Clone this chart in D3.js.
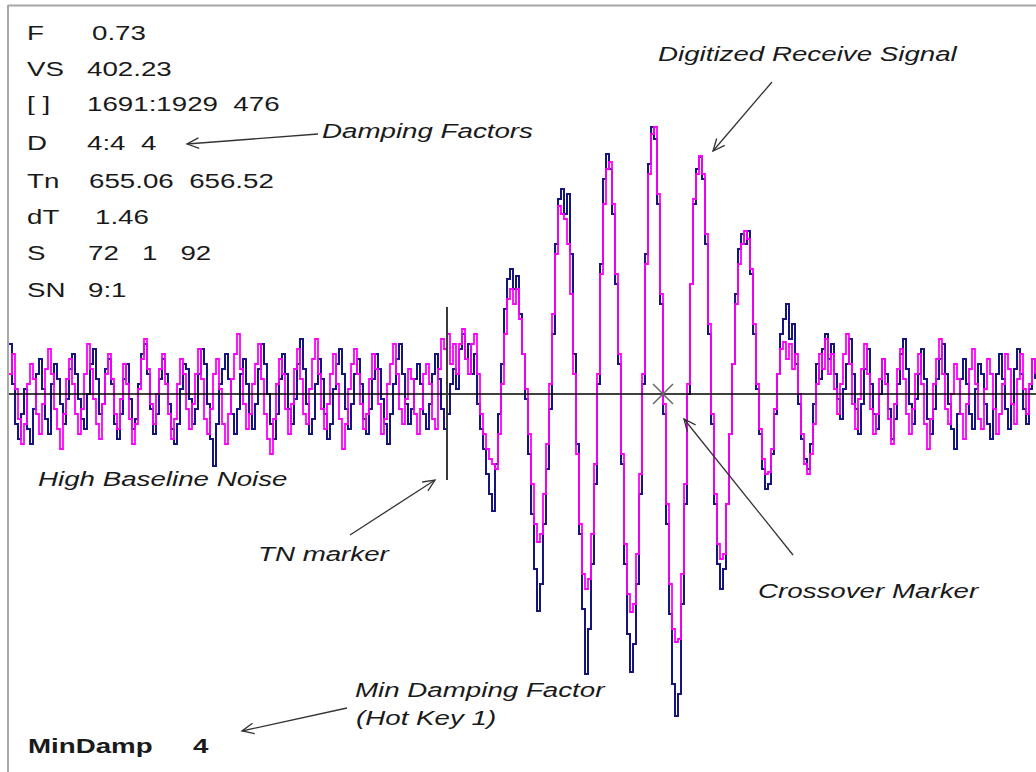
<!DOCTYPE html>
<html><head><meta charset="utf-8">
<script src="https://cdn.jsdelivr.net/npm/d3@7"></script>
<style>body{margin:0;background:#fff;overflow:hidden}</style>
</head><body><svg id="c" width="1036" height="772"></svg>
<script>
// Digitized receive signal (navy) and filtered signal (magenta), amplitude around baseline 0
const navy = [
 50,10,-30,-45,-20,5,-35,-50,-15,20, 35,5,-25,-40,10,30,15,-10,-30,-5,
 25,40,20,-5,-25,-35,0,30,45,15, -20,-10,25,35,10,-30,-45,-20,15,30,
 -5,-35,-25,10,40,50,20,-15,-40,-20, 15,35,20,-10,-35,-50,-30,5,30,25,
 -5,-30,-15,20,45,30,-10,-45,-72,-30, 10,25,40,15,-20,-40,-15,20,35,10,
 -20,-35,-10,25,50,30,0,-30,-45,-20, 15,40,20,-15,-30,-5,30,55,25,-10,
 -40,-25,10,35,15,-20,-45,-30,5,30, 45,20,-15,-35,-10,20,35,10,-25,-40,
 -15,15,40,25,-5,-30,-50,-20,10,35, 50,20,-10,-30,-15,15,30,10,-20,-35,
 -10,20,40,15,-15,-35,-20,10,25,5, 45,60,35,50,20,
 40,-10,-35,-55,-80,-100,-117,-70,-20,30,
 85,115,125,105,118,80,40,-5,-60,-120,
 -175,-217,-190,-130,-75,-15,60,150,195,205,
 180,200,140,40,-50,-140,-215,-280,-235,-170,
 -90,10,130,215,240,225,180,110,30,-70,
 -170,-240,-278,-250,-190,-100,10,140,230,267,
 255,190,90,-20,-130,-220,-290,-322,-300,-210,
 -110,0,110,190,225,237,215,150,60,-30,
 -110,-170,-195,-175,-110,-40,30,100,145,160,
 150,163,120,60,5,-40,-75,-95,-90,-60,
 -20,20,60,75,90,55,70,30,-10,-45,
 -65,-75,-50,-10,30,15,45,60,35,50,
 20,
 -5,-25,5,30,55,20,-15,-40,-10,25, 45,10,-20,-35,0,35,20,-15,-45,-25,
 10,40,55,25,-10,-30,-5,20,45,15, -25,-40,-15,15,35,50,20,-10,-35,-55,
 -20,15,35,10,-20,-35,5,30,20,-10, -30,-45,-15,20,40,15,-15,-35,-10,25,
 45,20,-15,-30,5,35,15
];
const magenta = [
 20,40,5,-25,-50,-30,10,30,15,-20, -40,-10,25,45,20,-15,-35,-55,-20,15,
 35,10,-20,-40,-15,20,50,25,-5,-30, -45,-10,20,40,15,-20,-35,-5,30,10,
 -25,-50,-30,5,35,55,25,-10,-30,0, 25,40,10,-20,-45,-25,10,35,20,-15,
 -35,-10,20,45,15,-25,-40,-15,20,35, 5,-30,-50,-20,15,40,60,25,-10,-35,
 -20,10,30,50,15,-20,-45,-60,-25,10, 35,20,-15,-40,-10,25,45,15,-20,-30,
 5,35,55,20,-15,-35,-10,20,40,10, -25,-55,-30,5,30,45,20,-10,-35,-20,
 15,40,25,-10,-40,-25,10,30,50,20, -15,-30,-5,25,15,-20,-40,-15,20,30,
 10,-25,-35,25,55,45,60,30,50,20, 50,65,35,20,50,
 60,20,-20,-40,-55,-65,-70,-75,-40,10,
 60,95,105,90,105,75,40,5,-40,-90,
 -130,-148,-140,-100,-50,10,80,140,188,180,
 175,150,100,20,-60,-130,-180,-195,-185,-140,
 -70,20,120,190,225,232,190,120,40,-60,
 -150,-200,-218,-210,-160,-80,20,130,220,260,
 267,200,100,-10,-110,-190,-235,-248,-245,-180,
 -90,10,110,195,220,238,220,160,70,-20,
 -100,-150,-165,-160,-110,-40,30,90,130,150,
 163,155,125,70,10,-35,-65,-80,-78,-55,
 -15,20,45,52,35,50,25,40,0,-40,
 -70,-80,-60,-30,10,40,25,55,20,40,
 5,
 -20,10,40,60,30,-10,-35,-5,25,50, 20,-15,-40,-20,15,35,10,-25,-50,-10,
 25,45,15,-20,-40,-15,20,40,10,-30, -55,-25,10,35,55,20,-15,-30,0,30,
 15,-20,-45,-10,25,45,10,-25,-35,5, 35,20,-15,-40,-20,10,40,25,-10,-30,
 15,40,5,-20,10,35,20
];
const statLabels = ["F","VS","[ ]","D","Tn","dT","S","SN"];
const statValues = ["0.73","402.23","1691:1929  476","4:4  4","655.06  656.52","1.46","72   1   92","9:1"];
const tnSample = 146;      // TN marker position (sample index)
const crossSample = 218;   // crossover marker position (sample index)
const minDampLabel = "MinDamp";
const minDampValue = "4";

const svg = d3.select("#c");
svg.append("rect").attr("width",1036).attr("height",772).attr("fill","#fff");

const x = d3.scaleLinear().domain([0, navy.length - 1]).range([9, 1035]);
const y = d3.scaleLinear().domain([-395, 395]).range([789, -1]);

// frame
svg.append("line").attr("x1",8).attr("x2",1036).attr("y1",5.5).attr("y2",5.5).attr("stroke","#a8a8a8").attr("stroke-width",2);
svg.append("line").attr("x1",8).attr("x2",8).attr("y1",5).attr("y2",772).attr("stroke","#a8a8a8").attr("stroke-width",2);

const line = d3.line().x((d,i)=>x(i)).y(d=>y(d)).curve(d3.curveStepAfter);
svg.append("path").datum(navy).attr("d",line).attr("fill","none").attr("stroke","#15157f").attr("stroke-width",2);
svg.append("path").datum(magenta).attr("d",line).attr("fill","none").attr("stroke","#ff00ff").attr("stroke-width",1.8);

// baseline
svg.append("line").attr("x1",9).attr("x2",1036).attr("y1",y(0)).attr("y2",y(0)).attr("stroke","#000").attr("stroke-width",1.6);
// TN marker
svg.append("line").attr("x1",x(tnSample)).attr("x2",x(tnSample)).attr("y1",y(87)).attr("y2",y(-86)).attr("stroke","#3a3a3a").attr("stroke-width",2);
// crossover X
const cx = x(crossSample), cy = y(0);
svg.append("path").attr("d",`M${cx-10},${cy-10}L${cx+10},${cy+10}M${cx-10},${cy+10}L${cx+10},${cy-10}`)
  .attr("stroke","#666").attr("stroke-width",1.5).attr("fill","none");

// text helpers
function txt(s, tx, ty, opts={}) {
  svg.append("text").attr("transform",`translate(${tx},${ty}) scale(1.32,1)`)
    .attr("font-family","'Liberation Sans', Arial, sans-serif")
    .attr("font-size", opts.size || 21)
    .attr("font-style", opts.italic ? "italic" : "normal")
    .attr("font-weight", opts.bold ? "bold" : "normal")
    .attr("fill", opts.fill || "#1a1a1a")
    .style("white-space","pre")
    .text(s);
}
function arrow(x1,y1,x2,y2){
  svg.append("line").attr("x1",x1).attr("y1",y1).attr("x2",x2).attr("y2",y2).attr("stroke","#333").attr("stroke-width",1.3);
  const a = Math.atan2(y2-y1,x2-x1), L = 13, w = 0.42;
  const p1 = [x2 - L*Math.cos(a-w), y2 - L*Math.sin(a-w)];
  const p2 = [x2 - L*Math.cos(a+w), y2 - L*Math.sin(a+w)];
  svg.append("path").attr("d",`M${p1}L${x2},${y2}L${p2}`).attr("fill","none").attr("stroke","#333").attr("stroke-width",1.3);
}

const rowBase = [40, 76, 111, 150, 188, 224, 260, 297];
const valX = [92, 87, 87, 87, 89, 95, 88, 88];
statLabels.forEach((l,i)=>{ txt(l, 27, rowBase[i]); txt(statValues[i], valX[i], rowBase[i]); });

txt("Digitized Receive Signal", 658, 61, {italic:true});
arrow(772, 82, 713, 151);
txt("Damping Factors", 322, 138, {italic:true});
arrow(318, 134, 187, 144);
txt("High Baseline Noise", 38, 486, {italic:true});
txt("TN marker", 258, 561, {italic:true});
arrow(350, 535, 435, 480);
txt("Crossover Marker", 758, 598, {italic:true});
arrow(793, 555, 684, 419);
txt("Min Damping Factor", 355, 697, {italic:true});
txt("(Hot Key 1)", 356, 725, {italic:true});
arrow(347, 708, 242, 731);
txt(minDampLabel, 28, 753, {bold:true});
txt(minDampValue, 193, 753, {bold:true});
</script></body></html>
